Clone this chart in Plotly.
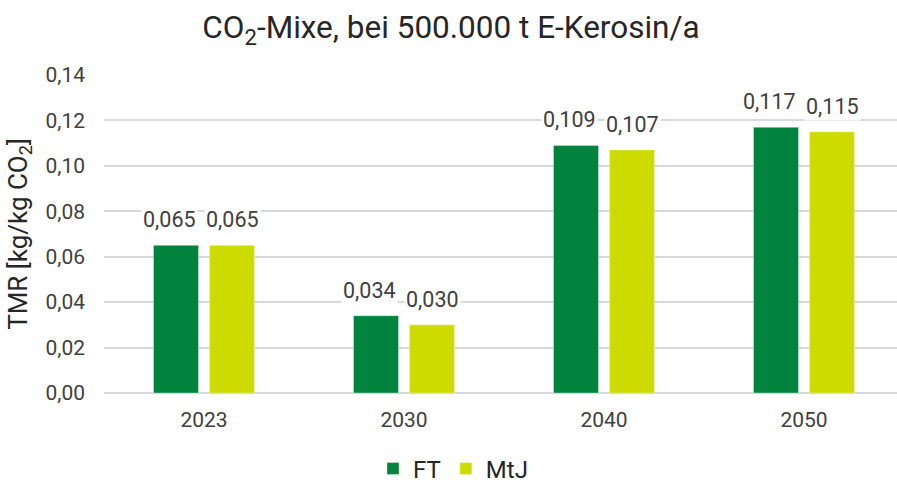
import plotly.graph_objects as go

categories = ["2023", "2030", "2040", "2050"]
ft_values = [0.065, 0.034, 0.109, 0.117]
mtj_values = [0.065, 0.030, 0.107, 0.115]
series_names = ["FT", "MtJ"]
colors = ["#00843D", "#CCDC00"]
y_ticks = [0.00, 0.02, 0.04, 0.06, 0.08, 0.10, 0.12, 0.14]

W, H = 897, 485
ML, MR, MT, MB = 104, 0, 75, 92
cat_px = 200.0
plot_w = W - ML - MR
bargap = 0.44
bargroupgap = 0.196

fig = go.Figure()
for name, vals, col in zip(series_names, [ft_values, mtj_values], colors):
    fig.add_trace(go.Bar(
        x=categories, y=vals, name=name,
        marker=dict(color=col, line=dict(width=0.6, color="rgba(255,255,255,0.6)")),
    ))

# data labels with white background, placed over each bar (x given as category index)
slot = (1 - bargap) / 2
label_nudge = [-7, 0]
for i, vals in enumerate([ft_values, mtj_values]):
    off = (i - 0.5) * slot
    for k, v in enumerate(vals):
        fig.add_annotation(
            x=k + off, y=v, xref="x", yref="y",
            text=f"{v:.3f}".replace(".", ","),
            showarrow=False, yanchor="bottom", xanchor="center",
            xshift=label_nudge[i], yshift=11,
            bgcolor="white", borderpad=1,
            font=dict(family="Roboto", size=21.5, color="#404040"),
        )

fig.update_layout(
    width=W, height=H,
    margin=dict(l=ML, r=MR, t=MT, b=MB, autoexpand=False),
    paper_bgcolor="white", plot_bgcolor="white",
    barmode="group", bargap=bargap, bargroupgap=bargroupgap,
    separators=",.",
    font=dict(family="Roboto", color="#404040"),
    title=dict(
        text="CO<sub>2</sub>-Mixe, bei 500.000 t E-Kerosin/a",
        x=451 / W, xanchor="center", xref="container",
        y=1 - 27 / H, yanchor="middle", yref="container",
        font=dict(family="Roboto", size=31.5, color="#262626"),
    ),
    xaxis=dict(
        type="category",
        range=[-0.5, -0.5 + plot_w / cat_px],
        showgrid=False, showline=False, ticks="",
        tickfont=dict(family="Roboto", size=21, color="#404040"),
        ticklabelstandoff=12,
        automargin=False,
    ),
    yaxis=dict(
        range=[0, 0.14],
        tickvals=y_ticks, tickformat=".2f",
        showgrid=True, gridcolor="#D9D9D9", gridwidth=1.5,
        zeroline=True, zerolinecolor="#D9D9D9", zerolinewidth=1.5,
        showline=False, ticks="",
        tickfont=dict(family="Roboto", size=21, color="#404040"),
        ticklabelstandoff=18,
        automargin=False,
        title=dict(text="TMR [kg/kg CO<sub>2</sub>]",
                   font=dict(family="Roboto", size=26, color="#262626"),
                   standoff=10),
    ),
    legend=dict(
        orientation="h", x=(453 - ML) / plot_w, xanchor="center",
        y=-0.239, yanchor="middle",
        font=dict(family="Roboto", size=24, color="#262626"),
        itemwidth=30, tracegroupgap=0,
    ),
)

fig.write_html("out.html")
